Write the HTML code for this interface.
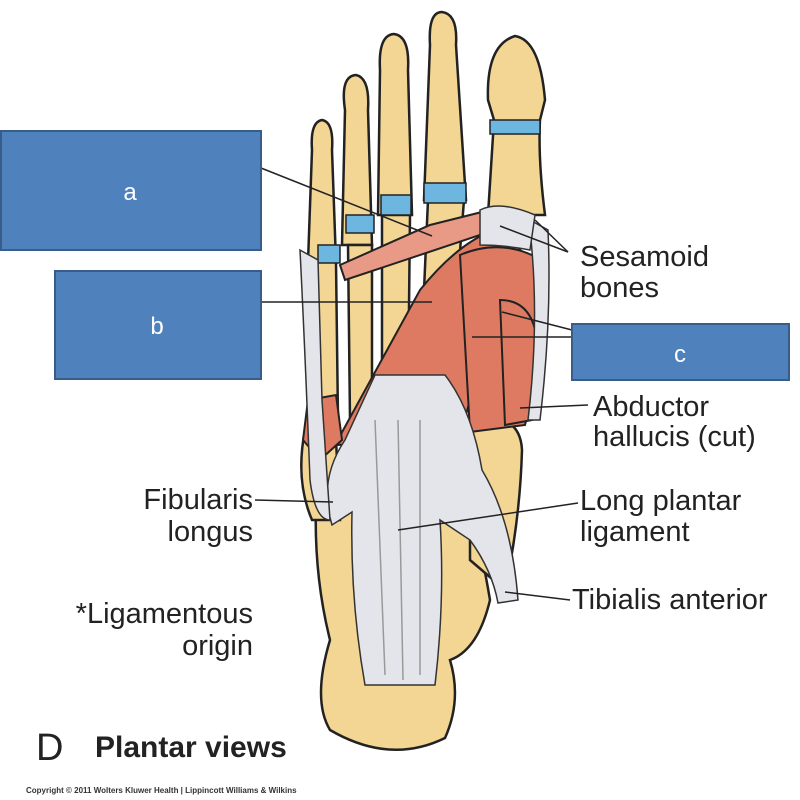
<!DOCTYPE html>
<html><head><meta charset="utf-8"><style>
html,body{margin:0;padding:0;background:#fff;}
svg{display:block;}
text{font-family:"Liberation Sans",sans-serif;}
</style></head><body>
<svg width="800" height="800" viewBox="0 0 800 800" xmlns="http://www.w3.org/2000/svg">
<g stroke="#222" stroke-width="2.5" fill="#f3d594">
<!-- heel / calcaneus -->
<path d="M318 470 Q310 560 330 640 Q312 700 330 730 Q390 765 445 738 Q462 700 450 660 Q478 650 490 600 Q480 540 465 490 Z"/>
<!-- lateral/medial midfoot bones -->
<path d="M305 430 Q295 480 312 520 L340 520 L335 420 Z"/>
<path d="M470 420 Q520 410 522 450 Q520 520 505 590 L470 560 Z"/>
<!-- toes -->
<path d="M308 262 L312 150 Q310 122 322 120 Q334 122 332 150 L336 262 Z"/>
<path d="M342 245 L345 110 Q340 76 356 75 Q370 78 368 110 L372 245 Z"/>
<path d="M378 215 L380 70 Q378 35 394 34 Q410 36 408 70 L412 215 Z"/>
<path d="M424 200 L430 45 Q428 12 442 12 Q458 14 456 45 L466 200 Z"/>
<path d="M488 215 Q492 150 494 120 L488 100 Q486 45 515 36 Q540 40 545 100 L540 120 Q538 160 545 215 Z"/>
<!-- metatarsals -->
<path d="M312 262 L318 420 L338 420 L336 262 Z"/>
<path d="M348 245 L350 420 L372 420 L372 245 Z"/>
<path d="M382 215 L382 400 L408 400 L410 215 Z"/>
<path d="M428 200 L420 380 L450 380 L464 200 Z"/>
</g>
<!-- cartilage blue -->
<g fill="#6cb6e0" stroke="#222" stroke-width="1.5">
<rect x="490" y="120" width="50" height="14"/>
<rect x="424" y="183" width="42" height="20"/>
<rect x="381" y="195" width="30" height="20"/>
<rect x="346" y="215" width="28" height="18"/>
<rect x="318" y="245" width="22" height="18"/>
</g>
<!-- muscles -->
<g stroke="#222" stroke-width="2" fill="#df7a62">
<path d="M335 445 L420 290 Q460 240 500 228 L525 255 Q485 330 460 440 Z"/>
<path d="M460 255 Q500 238 538 258 Q548 340 525 425 L470 432 Z"/>
<path d="M500 300 Q532 300 537 340 L532 420 L505 425 Z"/>
<path d="M308 400 L303 440 L320 460 L342 440 L336 395 Z"/>
<path d="M340 265 L430 225 L490 210 L480 235 L345 280 Z" fill="#e89a86"/>
</g>
<!-- ligaments grey -->
<g stroke="#333" stroke-width="1.5" fill="#e4e5ea">
<path d="M345 440 Q318 480 332 525 L352 512 Q350 600 365 685 L435 685 Q445 600 440 520 L470 540 Q492 570 498 603 L518 600 Q512 520 482 470 Q472 410 445 375 L375 375 Z"/>
<path d="M300 250 Q305 350 310 480 Q315 520 330 520 L322 400 L318 260 Z"/>
<path d="M530 220 L548 230 Q552 320 540 420 L528 420 Q540 320 530 230 Z"/>
<path d="M480 210 Q500 200 535 215 L530 250 Q505 245 480 245 Z"/>
</g>
<g stroke="#999" stroke-width="1.5">
<line x1="375" y1="420" x2="385" y2="675"/><line x1="398" y1="420" x2="403" y2="680"/><line x1="420" y1="420" x2="420" y2="675"/>
</g>
<!-- leader lines -->
<g stroke="#222" stroke-width="1.5">
<line x1="261" y1="168" x2="432" y2="236"/>
<line x1="261" y1="302" x2="432" y2="302"/>
<line x1="502" y1="312" x2="572" y2="330"/>
<line x1="472" y1="337" x2="572" y2="337"/>
<line x1="500" y1="226" x2="568" y2="252"/>
<line x1="535" y1="220" x2="568" y2="252"/>
<line x1="520" y1="408" x2="588" y2="405"/>
<line x1="255" y1="500" x2="333" y2="502"/>
<line x1="398" y1="530" x2="578" y2="503"/>
<line x1="505" y1="592" x2="570" y2="600"/>
</g>
<!-- boxes -->
<g fill="#4f81bd" stroke="#385d8a" stroke-width="2">
<rect x="1" y="131" width="260" height="119"/>
<rect x="55" y="271" width="206" height="108"/>
<rect x="572" y="324" width="217" height="56"/>
</g>
<g fill="#fff" font-size="24" text-anchor="middle">
<text x="130" y="200">a</text>
<text x="157" y="334">b</text>
<text x="680" y="362">c</text>
</g>
<!-- labels -->
<g fill="#222" font-size="29">
<text x="580" y="266">Sesamoid</text>
<text x="580" y="297">bones</text>
<text x="593" y="416">Abductor</text>
<text x="593" y="446">hallucis (cut)</text>
<text x="253" y="509" text-anchor="end">Fibularis</text>
<text x="253" y="541" text-anchor="end">longus</text>
<text x="580" y="510">Long plantar</text>
<text x="580" y="541">ligament</text>
<text x="572" y="609">Tibialis anterior</text>
<text x="253" y="623" text-anchor="end">*Ligamentous</text>
<text x="253" y="655" text-anchor="end">origin</text>
<text x="36" y="760" font-size="38">D</text>
<text x="95" y="757" font-size="30" font-weight="bold">Plantar views</text>
<text x="26" y="793" font-size="8" font-weight="bold" fill="#333">Copyright © 2011 Wolters Kluwer Health | Lippincott Williams &amp; Wilkins</text>
</g>
</svg>
</body></html>
